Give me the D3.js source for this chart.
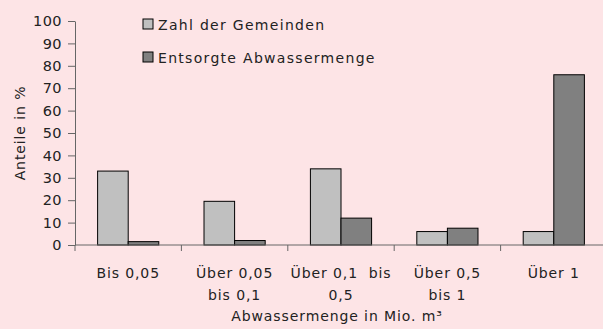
<!DOCTYPE html>
<html>
<head>
<meta charset="utf-8">
<script src="https://cdn.jsdelivr.net/npm/d3@7"></script>
<style>
  html, body { margin: 0; padding: 0; background: #fde4e6; }
  svg { display: block; }
  text { font-family: "DejaVu Sans", sans-serif; fill: #222; }
</style>
</head>
<body>
<svg id="chart" width="603" height="329"></svg>
<script>
// Size classes of disposed wastewater (Mio. m³), each label split into lines
const categories = ["Bis 0,05", "Über 0,05 bis 0,1", "Über 0,1 bis 0,5", "Über 0,5 bis 1", "Über 1"];
const categoryLines = [["Bis 0,05"], ["Über 0,05", "bis 0,1"], ["Über 0,1\u00a0\u00a0bis", "0,5"], ["Über 0,5", "bis 1"], ["Über 1"]];
const seriesNames = ["Zahl der Gemeinden", "Entsorgte Abwassermenge"];
const gemeinden = [33, 19.5, 34, 6, 6];
const abwasser = [1.5, 2, 12, 7.5, 76];
const yTicks = [0, 10, 20, 30, 40, 50, 60, 70, 80, 90, 100];
const colors = ["#c0c0c0", "#808080"];

const svg = d3.select("#chart");
const margin = { left: 75, top: 21, bottom: 245 };
const plotRight = 607;
const fontSize = "14px";
const spacing = "0.9px";

const x = d3.scaleBand().domain(categories).range([margin.left, plotRight]).padding(0);
const y = d3.scaleLinear().domain([0, 100]).range([margin.bottom, margin.top]);
const groupWidth = x.bandwidth() * 0.575;
const inner = d3.scaleBand().domain([0, 1]).range([0, groupWidth]).padding(0);
const groupOffset = (x.bandwidth() - groupWidth) / 2;

// Bars
const series = [gemeinden, abwasser];
series.forEach((vals, s) => {
  svg.append("g").selectAll("rect").data(vals).join("rect")
    .attr("x", (d, i) => x(categories[i]) + groupOffset + inner(s))
    .attr("y", d => y(d))
    .attr("width", inner.bandwidth())
    .attr("height", d => y(0) - y(d))
    .attr("fill", colors[s])
    .attr("stroke", "#000")
    .attr("stroke-width", 1);
});

// Y axis
const yAxis = svg.append("g")
  .attr("transform", `translate(${margin.left},0)`)
  .call(d3.axisLeft(y).tickValues(yTicks).tickSize(7).tickSizeOuter(0).tickPadding(6));
yAxis.selectAll("text").style("font-size", "14.5px").style("letter-spacing", "0.4px").attr("fill", "#222");
yAxis.selectAll("line, path").attr("stroke", "#666");
// axis line continues a little below the baseline
yAxis.append("line").attr("x1", 0).attr("x2", 0)
  .attr("y1", margin.bottom).attr("y2", margin.bottom + 6).attr("stroke", "#666");

// X axis: ticks at category boundaries
const xAxis = svg.append("g").attr("transform", `translate(0,${margin.bottom})`);
xAxis.append("line").attr("x1", margin.left).attr("x2", plotRight)
  .attr("stroke", "#666");
xAxis.selectAll("line.tick").data(categories.slice(1)).join("line")
  .attr("class", "tick")
  .attr("x1", d => x(d)).attr("x2", d => x(d))
  .attr("y1", 0).attr("y2", 6).attr("stroke", "#666");

// Category labels
categories.forEach((c, i) => {
  const cx = x(c) + x.bandwidth() / 2;
  const t = svg.append("text")
    .attr("x", cx)
    .attr("y", 278)
    .attr("text-anchor", "middle")
    .style("font-size", fontSize)
    .style("letter-spacing", spacing);
  categoryLines[i].forEach((line, j) => {
    t.append("tspan").attr("x", cx).attr("dy", j === 0 ? 0 : 21.5).text(line);
  });
});

// Axis titles
svg.append("text").attr("x", (margin.left + plotRight) / 2 - 4).attr("y", 321).attr("text-anchor", "middle")
  .style("font-size", fontSize).style("letter-spacing", spacing).text("Abwassermenge in Mio. m³");
svg.append("text").attr("transform", "translate(25,133) rotate(-90)")
  .attr("text-anchor", "middle").style("font-size", fontSize).style("letter-spacing", spacing)
  .text("Anteile in %");

// Legend
const legend = svg.append("g");
seriesNames.forEach((name, i) => {
  const ly = 19 + i * 33;
  legend.append("rect").attr("x", 143).attr("y", ly).attr("width", 10).attr("height", 10)
    .attr("fill", colors[i]).attr("stroke", "#000");
  legend.append("text").attr("x", 158).attr("y", ly + 11)
    .style("font-size", fontSize).style("letter-spacing", "1.3px").text(name);
});
</script>
</body>
</html>
